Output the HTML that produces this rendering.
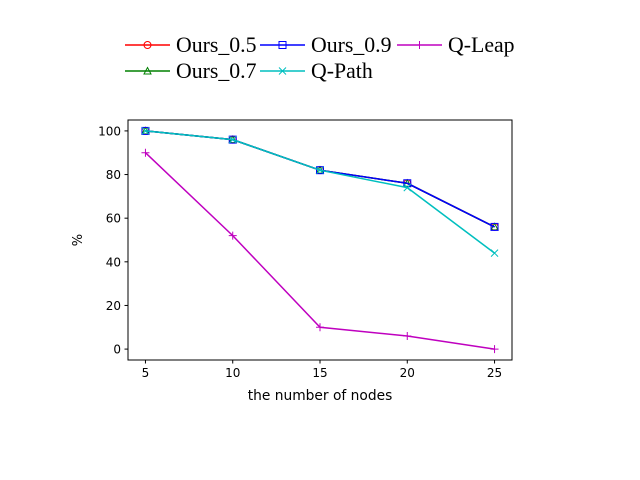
<!DOCTYPE html>
<html><head><meta charset="utf-8"><style>body{margin:0;background:#fff}svg{display:block}</style></head>
<body>
<svg id="chart" width="640" height="480" xmlns="http://www.w3.org/2000/svg">
<g id="legend"></g>
<rect x="128" y="120" width="384" height="240" fill="none" stroke="#000" stroke-width="1"/>
<g id="ticks"></g>
<g id="series"></g>
<text x="320" y="400" font-family="'DejaVu Sans',sans-serif" font-size="13.8" text-anchor="middle">the number of nodes</text>
<text x="82" y="240" font-family="'DejaVu Sans',sans-serif" font-size="13" text-anchor="middle" transform="rotate(-90 82 240)">%</text>
</svg>
<script>
const categories=[5,10,15,20,25];
const ours05=[100,96,82,76,56];
const ours07=[100,96,82,76,56];
const ours09=[100,96,82,76,56];
const qpath=[100,96,82,74,44];
const qleap=[90,52,10,6,0];
const xTicks=[5,10,15,20,25];
const yTicks=[0,20,40,60,80,100];
const NS='http://www.w3.org/2000/svg';
const X0=128,X1=512,Y0=360,Y1=120,xmin=4,xmax=26,ymin=-5,ymax=105;
const sx=v=>X0+(v-xmin)/(xmax-xmin)*(X1-X0);
const sy=v=>Y0-(v-ymin)/(ymax-ymin)*(Y0-Y1);
function mk(t,a,p){const e=document.createElementNS(NS,t);for(const k in a)e.setAttribute(k,a[k]);p.appendChild(e);return e;}
const tk=document.getElementById('ticks');
xTicks.forEach(v=>{const x=sx(v);
const l=mk('line',{x1:x,x2:x,y1:360,y2:363.5,stroke:'#000'},tk);


const t=mk('text',{x:x,y:377,'font-family':"'DejaVu Sans',sans-serif",'font-size':12,'text-anchor':'middle'},tk);t.textContent=v;

});
yTicks.forEach(v=>{const y=sy(v);
const l=mk('line',{x1:124.5,x2:128,y1:y,y2:y,stroke:'#000'},tk);


const t=mk('text',{x:121,y:y+4.5,'font-family':"'DejaVu Sans',sans-serif",'font-size':12,'text-anchor':'end'},tk);t.textContent=v;

});
function marker(kind,x,y,c,p){
 if(kind==='o')return mk('circle',{cx:x,cy:y,r:3.5,fill:'none',stroke:c,'stroke-width':1},p);
 if(kind==='s')return mk('rect',{x:x-3.5,y:y-3.5,width:7,height:7,fill:'none',stroke:c,'stroke-width':1},p);
 if(kind==='^')return mk('polygon',{points:`${x},${y-3.5} ${x+3.5},${y+3} ${x-3.5},${y+3}`,fill:'none',stroke:c,'stroke-width':1},p);
 if(kind==='x')return mk('path',{d:`M${x-3.5},${y-3.5}L${x+3.5},${y+3.5}M${x-3.5},${y+3.5}L${x+3.5},${y-3.5}`,stroke:c,'stroke-width':1},p);
 return mk('path',{d:`M${x-4},${y}L${x+4},${y}M${x},${y-4}L${x},${y+4}`,stroke:c,'stroke-width':1},p);
}
const series=[['ours-0.5',ours05,'#ff0000','o','Ours_0.5'],['ours-0.7',ours07,'#008000','^','Ours_0.7'],['ours-0.9',ours09,'#0000ff','s','Ours_0.9'],['q-path',qpath,'#00bfbf','x','Q-Path'],['q-leap',qleap,'#bf00bf','+','Q-Leap']];
const sg=document.getElementById('series');
series.forEach(([n,d,c,m])=>{
 const g=mk('g',{},sg);
 
 
 const pl=mk('polyline',{points:d.map((v,i)=>sx(categories[i])+','+sy(v)).join(' '),fill:'none',stroke:c,'stroke-width':1.5},g);
 
 
 d.forEach((v,i)=>{const e=marker(m,sx(categories[i]),sy(v),c,g);
 
 });
});
const lg=document.getElementById('legend');
const pos=[[125,45],[125,71],[260,45],[260,71],[397,45]];
series.forEach(([n,d,c,m,label],i)=>{
 const [x,y]=pos[i];
 const g=mk('g',{},lg);
 
 
 mk('line',{x1:x,x2:x+45,y1:y,y2:y,stroke:c,'stroke-width':1.5},g);
 marker(m,x+22.5,y,c,g);
 const t=mk('text',{x:x+51,y:y+7,'font-family':"'Liberation Serif',serif",'font-size':21.8},g);t.textContent=label;
});
</script>
</body></html>
